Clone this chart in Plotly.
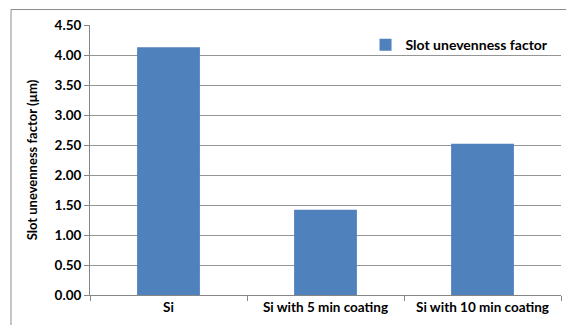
import plotly.graph_objects as go

categories = ["Si", "Si with 5 min coating", "Si with 10 min coating"]
values = [4.13, 1.42, 2.52]
series_name = "Slot unevenness factor"
y_title = "Slot unevenness factor (µm)"

FONT = "Lato"
fig = go.Figure()
fig.add_trace(go.Bar(
    x=categories, y=values, name=series_name,
    marker=dict(color="#4F81BD", line=dict(width=0)),
    width=0.4, showlegend=True,
))

# page body has an 8px margin, so the figure is sized to end at the window edge
fig.update_layout(
    width=566, height=317,
    margin=dict(l=82, r=13, t=16.5, b=30),
    paper_bgcolor="white", plot_bgcolor="white",
    font=dict(family=FONT, size=13, color="black"),
    showlegend=True,
    legend=dict(
        x=0.585, y=0.985, xanchor="left", yanchor="top",
        bgcolor="rgba(0,0,0,0)",
        font=dict(family=FONT, size=14, weight="bold"),
        itemwidth=30,
    ),
    xaxis=dict(
        type="category", automargin=False,
        showline=True, linecolor="#868686", linewidth=1,
        ticks="outside", tickson="boundaries", ticklen=5, tickcolor="#868686",
        tickfont=dict(family=FONT, size=13.5, weight="bold"),
        showgrid=False,
    ),
    yaxis=dict(
        range=[0, 4.5], dtick=0.5, tickformat=".2f", automargin=False,
        showline=True, linecolor="#868686", linewidth=1,
        ticks="outside", ticklen=5, tickcolor="#868686",
        showgrid=True, gridcolor="#969696", gridwidth=1,
        zeroline=False,
        tickfont=dict(family=FONT, size=13.5, weight="bold"),
        title=dict(text=y_title, font=dict(family=FONT, size=13, weight="bold"), standoff=14),
    ),
    shapes=[dict(
        type="rect", xref="paper", yref="paper",
        x0=-0.1677, x1=1.06, y0=-0.2, y1=1.0573,
        line=dict(color="#8c8c8c", width=1), fillcolor="rgba(0,0,0,0)", layer="below",
    )],
)

fig.write_html("out.html")
